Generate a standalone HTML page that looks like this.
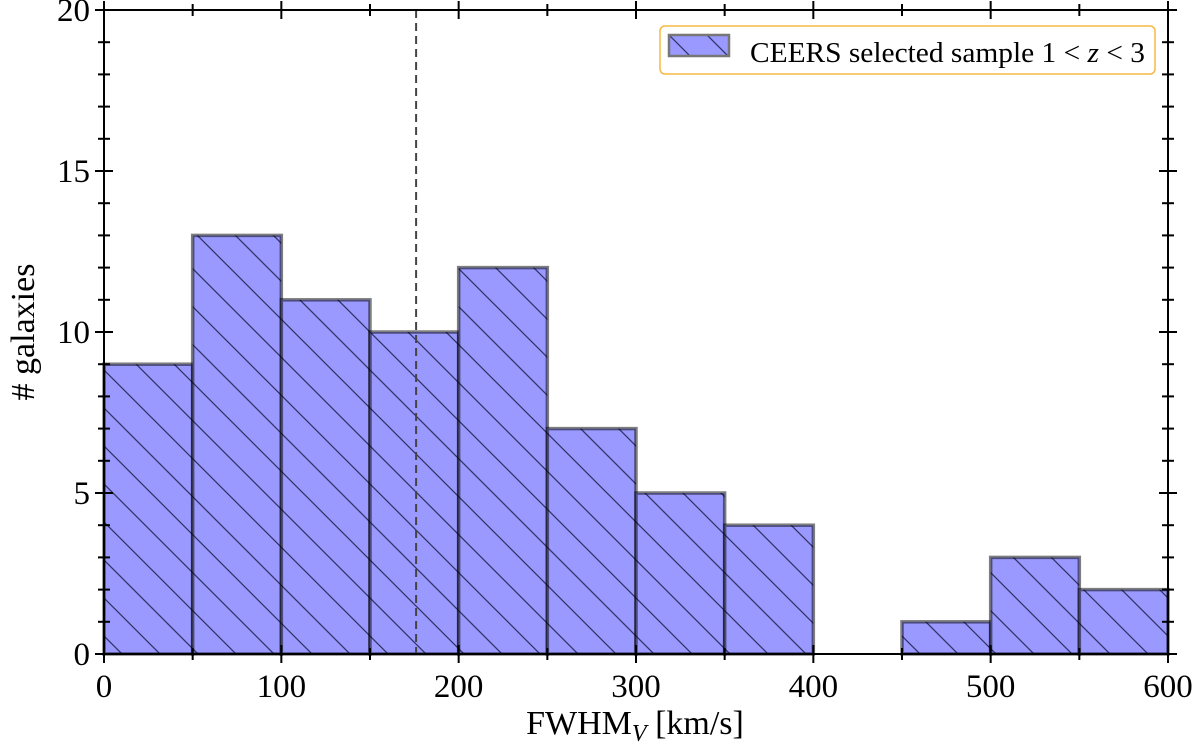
<!DOCTYPE html>
<html><head><meta charset="utf-8"><style>
body{margin:0;background:#fff;}
svg text{font-family:"Liberation Serif",serif;fill:#000;}
</style></head><body>
<svg id="chart" width="1200" height="746" xmlns="http://www.w3.org/2000/svg">
<defs>
<pattern id="hatch" patternUnits="userSpaceOnUse" width="38" height="38">
<rect width="38" height="38" fill="#9999ff"/>
<path d="M-2,-2 L40,40 M36,-2 L40,2 M-2,36 L2,40" stroke="#333366" stroke-width="1.3"/>
</pattern>
<pattern id="hatch2" patternUnits="userSpaceOnUse" width="38" height="38" x="669" y="35">
<rect width="38" height="38" fill="#9999ff"/>
<path d="M-2,-2 L40,40 M36,-2 L40,2 M-2,36 L2,40" stroke="#333366" stroke-width="1.3"/>
</pattern>
</defs>
<g id="bars"></g>
<g id="axes"></g>
<g>
<rect x="660" y="26" width="495" height="48" rx="5" fill="#fff" stroke="#f5b942" stroke-width="1.5"/>
<rect x="669" y="35" width="60" height="21" fill="url(#hatch2)" stroke="#777" stroke-width="2.5"/>
<text x="750" y="62" font-size="28" textLength="395" lengthAdjust="spacingAndGlyphs">CEERS selected sample 1 &lt; <tspan font-style="italic">z</tspan> &lt; 3</text>
</g>
<text x="635" y="734" font-size="34" text-anchor="middle">FWHM<tspan font-style="italic" font-size="24" dy="7">V</tspan><tspan dy="-7"> [km/s]</tspan></text>
<text transform="translate(34,332) rotate(-90)" font-size="34" text-anchor="middle"># galaxies</text>
</svg>
<script>
const binEdges=[0,50,100,150,200,250,300,350,400,450,500,550,600];
const counts=[9,13,11,10,12,7,5,4,0,1,3,2];
const xTicks=[0,100,200,300,400,500,600];
const yTicks=[0,5,10,15,20];
const medianLine=176;
const X0=104,X1=1168,Y0=654,Y1=10;
const xs=v=>X0+(v-0)/(600-0)*(X1-X0);
const ys=v=>Y0-(v-0)/(20-0)*(Y0-Y1);
const NS="http://www.w3.org/2000/svg";
function mk(tag,attrs,parent){const e=document.createElementNS(NS,tag);for(const k in attrs)e.setAttribute(k,attrs[k]);parent.appendChild(e);return e;}
const bars=document.getElementById('bars'),axes=document.getElementById('axes');
counts.forEach((c,i)=>{
 if(c<=0)return;
 const x=xs(binEdges[i]),w=xs(binEdges[i+1])-x,y=ys(c);
 const r=mk('rect',{x:x,y:y,width:w,height:Y0-y,fill:'url(#hatch)',stroke:'rgba(0,0,0,0.5)','stroke-width':3.5},bars);
 
 
});
const dl=mk('line',{x1:xs(medianLine),x2:xs(medianLine),y1:Y1,y2:Y0,stroke:'#444','stroke-width':2,'stroke-dasharray':'8,5'},axes);


const fr=mk('rect',{x:X0,y:Y1,width:X1-X0,height:Y0-Y1,fill:'none',stroke:'#000','stroke-width':2},axes);


for(let v=0;v<=600;v+=50){
 const x=xs(v),maj=v%100===0;
 const L=maj?9:6;
 mk('line',{x1:x,x2:x,y1:Y0-L,y2:Y0+(maj?9:6),stroke:'#000','stroke-width':2},axes);
 mk('line',{x1:x,x2:x,y1:Y1-(maj?9:6),y2:Y1+L,stroke:'#000','stroke-width':2},axes);
}
for(let v=0;v<=20;v+=1){
 const y=ys(v),maj=v%5===0;
 const L=maj?9:6;
 mk('line',{x1:X0-L,x2:X0+L,y1:y,y2:y,stroke:'#000','stroke-width':2},axes);
 mk('line',{x1:X1-L,x2:X1+L,y1:y,y2:y,stroke:'#000','stroke-width':2},axes);
}
xTicks.forEach(v=>{
 const t=mk('text',{x:xs(v),y:Y0+43,'font-size':33,'text-anchor':'middle'},axes);
 t.textContent=v;
 
 
});
yTicks.forEach(v=>{
 const t=mk('text',{x:X0-14,y:ys(v)+11,'font-size':33,'text-anchor':'end'},axes);
 t.textContent=v;
 
 
});
</script>
</body></html>
